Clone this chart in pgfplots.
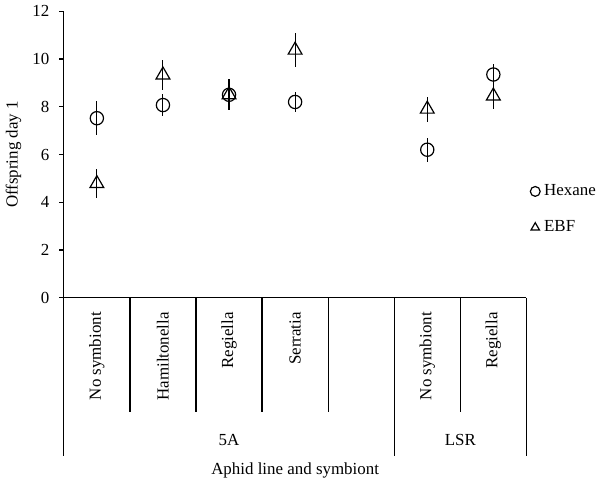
\documentclass[border=0pt]{standalone}
\usepackage{pgfplots}
\pgfplotsset{compat=1.18}
\usepackage{fontspec}
\setmainfont{Liberation Serif}
\begin{document}
\fontsize{12.75pt}{15pt}\selectfont
\begin{tikzpicture}
\begin{axis}[
  scale only axis,
  width=348.75pt, height=216pt,
  xmin=0.5, xmax=7.5,
  ymin=0, ymax=12,
  axis x line=bottom, axis y line=left,
  axis line style={-, line width=0.9pt},
  ytick={0,2,...,12},
  tick align=outside,
  major tick length=3.5pt,
  every tick/.style={black, line width=0.9pt},
  xtick={1,...,7},
  xticklabels={No symbiont, Hamiltonella, Regiella, Serratia, {}, No symbiont, Regiella},
  major x tick style={draw=none},
  xticklabel style={yshift=-3pt, rotate=90, anchor=east, font=\fontsize{12.75pt}{15pt}\selectfont},
  yticklabel style={xshift=-3pt, font=\fontsize{12.75pt}{15pt}\selectfont},
  /pgf/number format/assume math mode=true,
  ylabel={Offspring day 1},
  ylabel style={at={(axis description cs:-0.109,0.5)}, anchor=center, font=\fontsize{12.75pt}{15pt}\selectfont},
  clip=false,
  legend style={draw=none, fill=none, at={(axis description cs:1.008,0.405)}, anchor=north west,
    font=\fontsize{12.75pt}{15pt}\selectfont, row sep=13pt, inner sep=0pt},
  legend cell align=left,
  legend image code/.code={\draw[#1, mark size=3.7pt] plot coordinates {(0.14cm,0cm)};},
]
\addplot[only marks, mark=o, mark size=5pt, mark options={line width=0.9pt},
  error bars/.cd, y dir=both, y explicit, error mark=none,
  error bar style={line width=0.8pt}]
  coordinates {
    (1,7.52) +- (0,0.70)
    (2,8.07) +- (0,0.46)
    (3,8.50) +- (0,0.65)
    (4,8.20) +- (0,0.40)
    (6,6.20) +- (0,0.50)
    (7,9.35) +- (0,0.45)
  };
\addplot[only marks, mark=triangle, mark size=6pt, mark options={line width=0.9pt},
  error bars/.cd, y dir=both, y explicit, error mark=none,
  error bar style={line width=0.8pt}]
  coordinates {
    (1,4.78) +- (0,0.62)
    (2,9.33) +- (0,0.62)
    (3,8.50) +- (0,0.65)
    (4,10.37) +- (0,0.70)
    (6,7.90) +- (0,0.52)
    (7,8.45) +- (0,0.55)
  };
\legend{\hspace{1pt}Hexane, \hspace{1pt}EBF}

% category dividers
\draw[line width=0.9pt] (axis cs:1.5,0) -- ([yshift=-86.25pt]axis cs:1.5,0);
\draw[line width=0.9pt] (axis cs:2.5,0) -- ([yshift=-86.25pt]axis cs:2.5,0);
\draw[line width=0.9pt] (axis cs:3.5,0) -- ([yshift=-86.25pt]axis cs:3.5,0);
\draw[line width=0.9pt] (axis cs:4.5,0) -- ([yshift=-86.25pt]axis cs:4.5,0);
\draw[line width=0.9pt] (axis cs:6.5,0) -- ([yshift=-86.25pt]axis cs:6.5,0);
\draw[line width=0.9pt] (axis cs:0.5,0) -- ([yshift=-119.25pt]axis cs:0.5,0);
\draw[line width=0.9pt] (axis cs:5.5,0) -- ([yshift=-119.25pt]axis cs:5.5,0);
\draw[line width=0.9pt] (axis cs:7.5,0) -- ([yshift=-119.25pt]axis cs:7.5,0);
\node[anchor=center] at ([yshift=-107pt]axis cs:3,0) {5A};
\node[anchor=center] at ([yshift=-107pt]axis cs:6.5,0) {LSR};
\node[anchor=center] at ([yshift=-130.5pt]axis cs:4,0) {Aphid line and symbiont};

\path ([xshift=-45.75pt,yshift=-143.25pt]rel axis cs:0,0) rectangle ([xshift=404.25pt,yshift=220.5pt]rel axis cs:0,0);
\end{axis}
\end{tikzpicture}
\end{document}
